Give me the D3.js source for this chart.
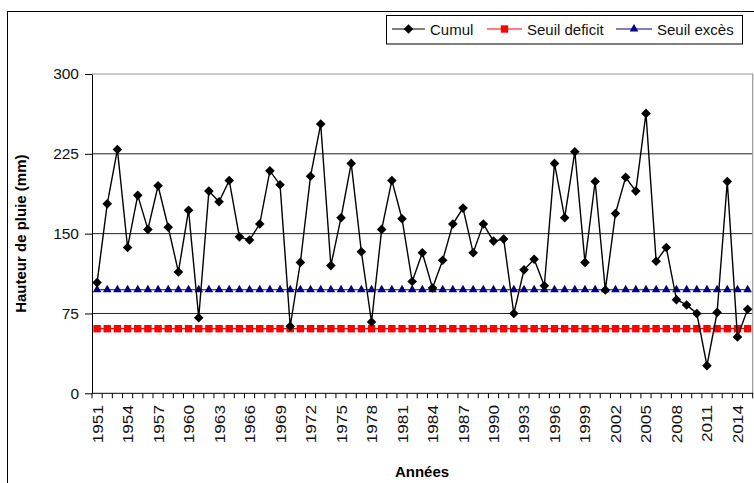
<!DOCTYPE html>
<html>
<head>
<meta charset="utf-8">
<script src="https://cdn.jsdelivr.net/npm/d3@7"></script>
<style>
  body { margin: 0; background: #fff; }
  svg { display: block; font-family: "Liberation Sans", Arial, sans-serif; }
</style>
</head>
<body>
<svg width="754" height="483"></svg>
<script>
// categories
var years = d3.range(1951, 2016);

// series values (mm)
var cumul = [
  104, 178, 229, 137, 186, 154, 195, 156, 114, 172,
  71, 190, 180, 200, 147, 144, 159, 209, 196, 63,
  123, 204, 253, 120, 165, 216, 133, 67, 154, 200,
  164, 105, 132, 99, 125, 159, 174, 132, 159, 143,
  145, 75, 116, 126, 101, 216, 165, 227, 123, 199,
  97, 169, 203, 190, 263, 124, 137, 88, 83, 75,
  26, 76, 199, 53, 79
];
var seuilDeficit = 60.7;
var seuilExces = 97.3;

var yTicks = [0, 75, 150, 225, 300];
var xLabelStep = 3;

var svg = d3.select("svg"),
    pLeft = 92, pRight = 752.7, pTop = 74, pBottom = 393.3;

// outer chart frame
svg.append("rect")
    .attr("x", 7.5).attr("y", 11.5)
    .attr("width", 800).attr("height", 600)
    .attr("fill", "none").attr("stroke", "#000").attr("stroke-width", 1);

var x = d3.scaleBand().domain(years).range([pLeft, pRight]).padding(0);
var y = d3.scaleLinear().domain([0, 300]).range([pBottom, pTop]);
var cx = function(d) { return x(d) + x.bandwidth() / 2; };

// marker shapes (excel-like)
var diamond = "M0,-4.8L4.8,0L0,4.8L-4.8,0Z";
var tri = "M0,-4.6L4.3,3L-4.3,3Z";

// gridlines
svg.append("g").selectAll("line")
  .data(yTicks.filter(function(d) { return d > 0 && d < 300; }))
  .enter().append("line")
    .attr("x1", pLeft).attr("x2", pRight)
    .attr("y1", function(d) { return y(d); }).attr("y2", function(d) { return y(d); })
    .attr("stroke", "#222").attr("stroke-width", 1);

// plot area border (top and right)
svg.append("path")
    .attr("d", "M" + pLeft + "," + y(300) + "H" + pRight + "V" + pBottom)
    .attr("fill", "none").attr("stroke", "#999").attr("stroke-width", 1.2);

// y axis
var yAxis = svg.append("g")
    .attr("transform", "translate(" + pLeft + ",0)")
    .call(d3.axisLeft(y).tickValues(yTicks).tickSize(7).tickPadding(6).tickSizeOuter(0));
yAxis.select(".domain").attr("stroke", "#000");
yAxis.selectAll(".tick line").attr("stroke", "#000");
yAxis.selectAll("text")
    .attr("font-size", "15.5px").attr("font-family", "Liberation Sans, Arial, sans-serif")
    .attr("fill", "#111");

// x axis: line + ticks at category boundaries
var xg = svg.append("g");
xg.append("line")
    .attr("x1", pLeft).attr("x2", pRight + 0.5)
    .attr("y1", pBottom).attr("y2", pBottom)
    .attr("stroke", "#000");
xg.selectAll(".xt")
  .data(years.concat(["end"]))
  .enter().append("line")
    .attr("x1", function(d) { return d === "end" ? pRight : x(d); })
    .attr("x2", function(d) { return d === "end" ? pRight : x(d); })
    .attr("y1", pBottom).attr("y2", pBottom + 5)
    .attr("stroke", "#000");
xg.selectAll(".xl")
  .data(years.filter(function(d, i) { return i % xLabelStep === 0; }))
  .enter().append("text")
    .attr("transform", function(d) { return "translate(" + (cx(d) + 5.5) + ",405) rotate(-90) scale(1.15,1)"; })
    .attr("text-anchor", "end")
    .attr("font-size", "15px")
    .attr("fill", "#111")
    .text(function(d) { return d; });

// threshold series
var line = d3.line().x(function(d) { return cx(d.year); }).y(function(d) { return y(d.v); });
var deficitData = years.map(function(yr) { return { year: yr, v: seuilDeficit }; });
var excesData = years.map(function(yr) { return { year: yr, v: seuilExces }; });
var cumulData = years.map(function(yr, i) { return { year: yr, v: cumul[i] }; });

svg.append("path").datum(deficitData).attr("d", line)
    .attr("fill", "none").attr("stroke", "#ff0000").attr("stroke-width", 1.2);
svg.append("g").selectAll("rect").data(deficitData).enter().append("rect")
    .attr("x", function(d) { return cx(d.year) - 3.7; })
    .attr("y", function(d) { return y(d.v) - 3.7; })
    .attr("width", 7.4).attr("height", 7.4)
    .attr("fill", "#ff0000");

svg.append("path").datum(excesData).attr("d", line)
    .attr("fill", "none").attr("stroke", "#000080").attr("stroke-width", 1.2);
svg.append("g").selectAll("path").data(excesData).enter().append("path")
    .attr("d", tri)
    .attr("transform", function(d) { return "translate(" + cx(d.year) + "," + (y(d.v) - 0.5) + ")"; })
    .attr("fill", "#000080");

// cumul series
svg.append("path").datum(cumulData).attr("d", line)
    .attr("fill", "none").attr("stroke", "#000").attr("stroke-width", 1.4);
svg.append("g").selectAll("path").data(cumulData).enter().append("path")
    .attr("d", diamond)
    .attr("transform", function(d) { return "translate(" + cx(d.year) + "," + y(d.v) + ")"; })
    .attr("fill", "#000");

// axis titles
svg.append("text")
    .attr("transform", "translate(26," + ((pTop + pBottom) / 2) + ") rotate(-90)")
    .attr("text-anchor", "middle")
    .attr("font-size", "15px").attr("font-weight", "bold")
    .text("Hauteur de pluie (mm)");
svg.append("text")
    .attr("x", 422).attr("y", 477)
    .attr("text-anchor", "middle")
    .attr("font-size", "15px").attr("font-weight", "bold")
    .text("Années");

// legend
var lg = svg.append("g");
lg.append("rect")
    .attr("x", 386.5).attr("y", 15.5).attr("width", 356).attr("height", 28.5)
    .attr("fill", "#fff").attr("stroke", "#000");
var legendItems = [
  { name: "Cumul", color: "#000", x0: 392, x1: 425, tx: 430, shape: "diamond" },
  { name: "Seuil deficit", color: "#ff0000", x0: 487, x1: 522, tx: 527, shape: "square" },
  { name: "Seuil excès", color: "#000080", x0: 616, x1: 652, tx: 657, shape: "triangle" }
];
legendItems.forEach(function(it) {
  var my = 29;
  lg.append("line").attr("x1", it.x0).attr("x2", it.x1).attr("y1", my).attr("y2", my)
      .attr("stroke", it.color).attr("stroke-width", 1.2);
  var mx = (it.x0 + it.x1) / 2;
  if (it.shape === "square") {
    lg.append("rect").attr("x", mx - 3.7).attr("y", my - 3.7).attr("width", 7.4).attr("height", 7.4).attr("fill", it.color);
  } else {
    lg.append("path").attr("d", it.shape === "diamond" ? diamond : tri)
        .attr("transform", "translate(" + mx + "," + (it.shape === "triangle" ? my - 0.5 : my) + ")")
        .attr("fill", it.color);
  }
  lg.append("text").attr("x", it.tx).attr("y", my + 5.5)
      .attr("font-size", "15px").attr("fill", "#111")
      .text(it.name);
});
</script>
</body>
</html>
